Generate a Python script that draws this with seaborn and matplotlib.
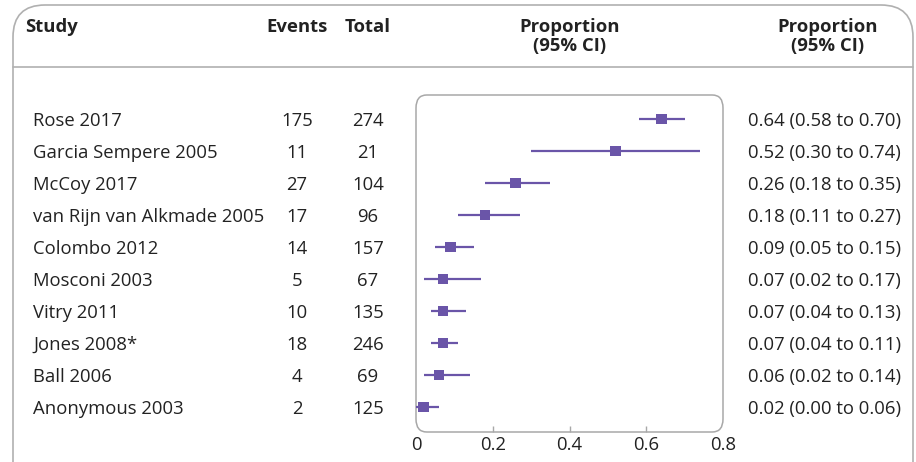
import matplotlib

matplotlib.use("Agg")

import matplotlib.pyplot as plt
import pandas as pd
import seaborn as sns
from matplotlib.patches import FancyBboxPatch
from matplotlib.transforms import blended_transform_factory

studies = [
    "Rose 2017",
    "Garcia Sempere 2005",
    "McCoy 2017",
    "van Rijn van Alkmade 2005",
    "Colombo 2012",
    "Mosconi 2003",
    "Vitry 2011",
    "Jones 2008*",
    "Ball 2006",
    "Anonymous 2003",
]
events = [175, 11, 27, 17, 14, 5, 10, 18, 4, 2]
totals = [274, 21, 104, 96, 157, 67, 135, 246, 69, 125]
proportion = [0.64, 0.52, 0.26, 0.18, 0.09, 0.07, 0.07, 0.07, 0.06, 0.02]
ci_low = [0.58, 0.30, 0.18, 0.11, 0.05, 0.02, 0.04, 0.04, 0.02, 0.00]
ci_high = [0.70, 0.74, 0.35, 0.27, 0.15, 0.17, 0.13, 0.11, 0.14, 0.06]
x_ticks = [0, 0.2, 0.4, 0.6, 0.8]
x_tick_labels = ["0", "0.2", "0.4", "0.6", "0.8"]

PURPLE = "#6a55a8"
GREY = "#a8a8a8"
TEXT = "#222222"
W, H = 916, 462
FS = 13.3

sns.set_theme(style="white")
plt.rcParams["font.family"] = ["Open Sans", "Noto Sans", "DejaVu Sans"]

df = pd.DataFrame({
    "study": studies,
    "events": events,
    "total": totals,
    "prop": proportion,
    "low": ci_low,
    "high": ci_high,
})
df["row"] = range(len(df))

fig = plt.figure(figsize=(W / 100, H / 100), dpi=100)


def fx(px):
    return px / W


def fy(py):
    return 1 - py / H


# outer rounded frame and header separator
fig.patches.append(FancyBboxPatch(
    (fx(13), fy(500)), fx(900), fy(5) - fy(500),
    boxstyle="round,pad=0,rounding_size=0.035", transform=fig.transFigure,
    facecolor="none", edgecolor="#b0b0b0", linewidth=1.2,
    mutation_aspect=W / H))
fig.add_artist(plt.Line2D([fx(13), fx(913)], [fy(67), fy(67)],
                          transform=fig.transFigure, color="#b0b0b0", linewidth=1.2))

ax = fig.add_axes([fx(416), fy(432), fx(723) - fx(416), fy(95) - fy(432)])
ax.set_xlim(0, 0.8)
ax.set_ylim(len(df) - 1 + 0.78, -0.75)

ax.hlines(df["row"], df["low"], df["high"], color=PURPLE, linewidth=1.6, zorder=2)
sns.scatterplot(data=df, x="prop", y="row", marker="s", s=58, color=PURPLE,
                edgecolor="none", ax=ax, zorder=3, clip_on=False)

for spine in ax.spines.values():
    spine.set_visible(False)
ax.add_patch(FancyBboxPatch(
    (0, 0), 1, 1, boxstyle="round,pad=0,rounding_size=0.035",
    transform=ax.transAxes, facecolor="none", edgecolor=GREY, linewidth=1.1,
    mutation_aspect=(432 - 95) / (723 - 416), clip_on=False, zorder=1))

ax.set_xticks(x_ticks)
ax.set_xticklabels(x_tick_labels, fontsize=FS, color=TEXT)
ax.tick_params(axis="x", direction="in", length=4, width=1, color=GREY, pad=3,
               bottom=True)
for tick in ax.xaxis.get_major_ticks():
    if tick.get_loc() in (0, 0.8):
        tick.tick1line.set_visible(False)
ax.set_yticks([])
ax.set_xlabel("")
ax.set_ylabel("")

# row texts aligned with data rows
tr = blended_transform_factory(fig.transFigure, ax.transData)
row_text = dict(transform=tr, va="center_baseline", fontsize=FS, color=TEXT)
for _, r in df.iterrows():
    y = r["row"]
    fig.text(fx(33), y, r["study"], ha="left", **row_text)
    fig.text(fx(297), y, f"{r['events']}", ha="center", **row_text)
    fig.text(fx(368), y, f"{r['total']}", ha="center", **row_text)
    fig.text(fx(748), y, f"{r['prop']:.2f} ({r['low']:.2f} to {r['high']:.2f})",
             ha="left", **row_text)

# header
hdr = dict(fontsize=FS, fontweight="bold", color=TEXT)
fig.text(fx(25), fy(27), "Study", ha="left", va="center", **hdr)
fig.text(fx(297), fy(27), "Events", ha="center", va="center", **hdr)
fig.text(fx(368), fy(27), "Total", ha="center", va="center", **hdr)
for cx in (570, 828):
    fig.text(fx(cx), fy(27), "Proportion", ha="center", va="center", **hdr)
    fig.text(fx(cx), fy(46), "(95% CI)", ha="center", va="center", **hdr)

fig.savefig("out.png", dpi=100)
